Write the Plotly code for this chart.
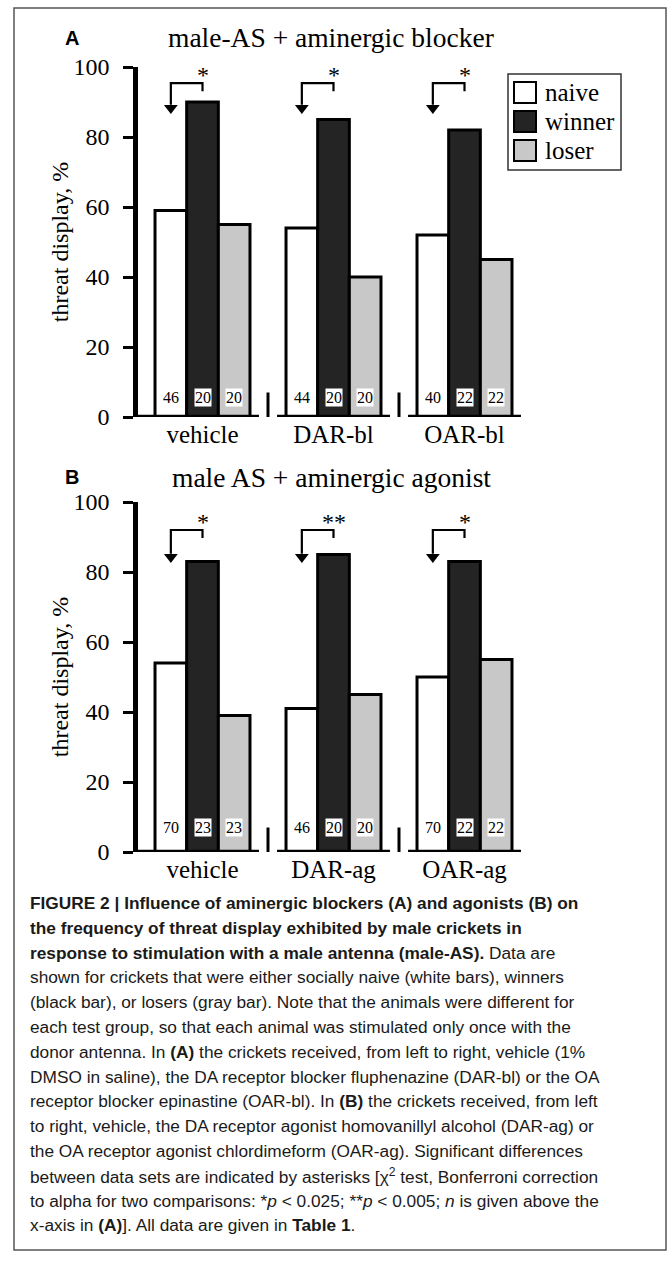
import plotly.graph_objects as go

W, H = 670, 1275

# ---------------- data ----------------
categories_a = ["vehicle", "DAR-bl", "OAR-bl"]
categories_b = ["vehicle", "DAR-ag", "OAR-ag"]
series = ["naive", "winner", "loser"]
colors = ["#ffffff", "#242424", "#c8c8c8"]

naive_a = [59, 54, 52]
winner_a = [90, 85, 82]
loser_a = [55, 40, 45]
n_naive_a = [46, 44, 40]
n_winner_a = [20, 20, 22]
n_loser_a = [20, 20, 22]
sig_a = ["*", "*", "*"]

naive_b = [54, 41, 50]
winner_b = [83, 85, 83]
loser_b = [39, 45, 55]
n_naive_b = [70, 46, 70]
n_winner_b = [23, 20, 22]
n_loser_b = [23, 20, 22]
sig_b = ["*", "**", "*"]

y_ticks = [0, 20, 40, 60, 80, 100]

title_a = "male-AS + aminergic blocker"
title_b = "male AS + aminergic agonist"
y_title = "threat display, %"

caption_lines = [
    "<b>FIGURE 2 | Influence of aminergic blockers (A) and agonists (B) on</b>",
    "<b>the frequency of threat display exhibited by male crickets in</b>",
    "<b>response to stimulation with a male antenna (male-AS).</b> Data are",
    "shown for crickets that were either socially naive (white bars), winners",
    "(black bar), or losers (gray bar). Note that the animals were different for",
    "each test group, so that each animal was stimulated only once with the",
    "donor antenna. In <b>(A)</b> the crickets received, from left to right, vehicle (1%",
    "DMSO in saline), the DA receptor blocker fluphenazine (DAR-bl) or the OA",
    "receptor blocker epinastine (OAR-bl). In <b>(B)</b> the crickets received, from left",
    "to right, vehicle, the DA receptor agonist homovanillyl alcohol (DAR-ag) or",
    "the OA receptor agonist chlordimeform (OAR-ag). Significant differences",
    "between data sets are indicated by asterisks [\u03c7<sup>2</sup> test, Bonferroni correction",
    "to alpha for two comparisons: *<i>p</i> &lt; 0.025; **<i>p</i> &lt; 0.005; <i>n</i> is given above the",
    "x-axis in <b>(A)</b>]. All data are given in <b>Table 1</b>.",
]

SERIF = "Liberation Serif, Times New Roman, serif"
SANS = "Liberation Sans, Arial, sans-serif"


def fx(px):
    return px / W


def fy(py):
    return 1 - py / H


BARGAP = 0.275
BW = (1 - BARGAP) / 3  # width of one bar in category units

panels = [
    dict(suffix="", cats=categories_a, vals=[naive_a, winner_a, loser_a],
         ns=[n_naive_a, n_winner_a, n_loser_a], sig=sig_a, title=title_a, letter="A",
         y0px=417, y100px=67, title_py=38, top=95.4, tip=86.6, nlab=5.7),
    dict(suffix="2", cats=categories_b, vals=[naive_b, winner_b, loser_b],
         ns=[n_naive_b, n_winner_b, n_loser_b], sig=sig_b, title=title_b, letter="B",
         y0px=852, y100px=502, title_py=477, top=92.0, tip=82.6, nlab=6.9),
]

fig = go.Figure()
annotations = []
shapes = []

X_LEFT_PX, X_RIGHT_PX = 138, 530
X_MIN, X_MAX = -0.4924, 2.5

layout_axes = {}
for p in panels:
    sx = "x" + p["suffix"]
    sy = "y" + p["suffix"]
    idx = list(range(len(p["cats"])))
    for k, name in enumerate(series):
        fig.add_trace(go.Bar(
            x=idx, y=p["vals"][k], name=name, showlegend=False,
            marker=dict(color=colors[k], line=dict(color="black", width=3)),
            xaxis=sx, yaxis=sy, hoverinfo="skip",
        ))
    # baseline segments (through the axes scale)
    bx, by = [], []
    for i in idx:
        left = X_MIN - 0.03 if i == 0 else i - 0.431
        bx += [left, i + 0.431, None]
        by += [0, 0, None]
    fig.add_trace(go.Scatter(x=bx, y=by, mode="lines", line=dict(color="black", width=4.5),
                             cliponaxis=False, showlegend=False, xaxis=sx, yaxis=sy,
                             hoverinfo="skip"))
    # group separators
    sxs, sys_ = [], []
    for i in idx[:-1]:
        sxs += [i + 0.5, i + 0.5, None]
        sys_ += [7, -7, None]
    fig.add_trace(go.Scatter(x=sxs, y=sys_, mode="lines", line=dict(color="black", width=3),
                             cliponaxis=False, showlegend=False, xaxis=sx, yaxis=sy,
                             hoverinfo="skip"))
    # significance brackets
    for i in idx:
        xa, xw = i - BW, i
        fig.add_trace(go.Scatter(
            x=[xa, xa, xw, xw], y=[p["tip"] + 2.6, p["top"], p["top"], p["top"] - 2.3],
            mode="lines", line=dict(color="black", width=2.2), cliponaxis=False,
            showlegend=False, xaxis=sx, yaxis=sy, hoverinfo="skip"))
        fig.add_trace(go.Scatter(
            x=[xa], y=[p["tip"] + 1.7], mode="markers",
            marker=dict(symbol="triangle-down", size=12, color="black"),
            cliponaxis=False, showlegend=False, xaxis=sx, yaxis=sy, hoverinfo="skip"))
        annotations.append(dict(x=xw, y=p["top"] + 2.2, xref=sx, yref=sy, text=p["sig"][i],
                                showarrow=False, font=dict(family=SERIF, size=24, color="#000000"),
                                xanchor="center", yanchor="middle"))
        # n labels
        for k in range(3):
            annotations.append(dict(x=i + (k - 1) * BW, y=p["nlab"], xref=sx, yref=sy,
                                    text=str(p["ns"][k][i]), showarrow=False,
                                    bgcolor="white", borderpad=0,
                                    font=dict(family=SERIF, size=16, color="black"),
                                    xanchor="center", yanchor="middle"))
    # titles
    annotations.append(dict(x=fx(331), y=fy(p["title_py"]), xref="paper", yref="paper",
                            text=p["title"], showarrow=False,
                            font=dict(family=SERIF, size=27.5, color="black"),
                            xanchor="center", yanchor="middle"))
    annotations.append(dict(x=fx(72), y=fy(p["title_py"]), xref="paper", yref="paper",
                            text="<b>" + p["letter"] + "</b>", showarrow=False,
                            font=dict(family=SANS, size=20, color="black"),
                            xanchor="center", yanchor="middle"))

    xa_name = "xaxis" + p["suffix"]
    ya_name = "yaxis" + p["suffix"]
    layout_axes[xa_name] = dict(
        domain=[fx(X_LEFT_PX), fx(X_RIGHT_PX)], range=[X_MIN, X_MAX],
        anchor=sy, showline=False, showgrid=False, zeroline=False,
        tickvals=idx, ticktext=p["cats"], ticks="", ticklabelstandoff=0,
        tickfont=dict(family=SERIF, size=25, color="black"), automargin=False,
        fixedrange=True,
    )
    layout_axes[ya_name] = dict(
        domain=[fy(p["y0px"]), fy(p["y100px"])], range=[0, 100],
        anchor=sx, showline=True, linewidth=4.5, linecolor="black", showgrid=False,
        zeroline=False, tickvals=y_ticks, ticks="outside", ticklen=10, tickwidth=3,
        tickcolor="black", ticklabelstandoff=9,
        tickfont=dict(family=SERIF, size=24, color="black"),
        title=dict(text=y_title, font=dict(family=SERIF, size=24, color="black"), standoff=0),
        automargin=False, fixedrange=True,
    )

# legend (custom, panel A)
shapes.append(dict(type="rect", xref="paper", yref="paper", x0=fx(508), x1=fx(621),
                   y0=fy(170), y1=fy(74), line=dict(color="#333333", width=1.5),
                   fillcolor="white"))
for k, name in enumerate(series):
    top = 82 + 29 * k
    shapes.append(dict(type="rect", xref="paper", yref="paper", x0=fx(514), x1=fx(536),
                       y0=fy(top + 21), y1=fy(top), line=dict(color="black", width=2),
                       fillcolor=colors[k]))
    annotations.append(dict(x=fx(543), y=fy(top + 10.5), xref="paper", yref="paper",
                            text=name, showarrow=False, xanchor="left", yanchor="middle",
                            font=dict(family=SERIF, size=25, color="black")))

# caption
CAP_TOP, CAP_STEP = 903, 24.8
for j, line in enumerate(caption_lines):
    annotations.append(dict(x=fx(28), y=fy(CAP_TOP + j * CAP_STEP), xref="paper", yref="paper",
                            text=line, showarrow=False, xanchor="left", yanchor="middle",
                            font=dict(family=SANS, size=17.3, color="#1a1a1a")))

# outer frame
shapes.append(dict(type="rect", xref="paper", yref="paper", x0=fx(14), x1=fx(666),
                   y0=fy(1250), y1=fy(8), line=dict(color="#555555", width=1.5),
                   layer="below"))

fig.update_layout(
    width=W, height=H, margin=dict(l=0, r=0, t=0, b=0),
    template="none", paper_bgcolor="white", plot_bgcolor="rgba(0,0,0,0)",
    barmode="group", bargap=BARGAP, bargroupgap=0,
    showlegend=False, annotations=annotations, shapes=shapes,
    **layout_axes,
)

fig.write_html("out.html")
